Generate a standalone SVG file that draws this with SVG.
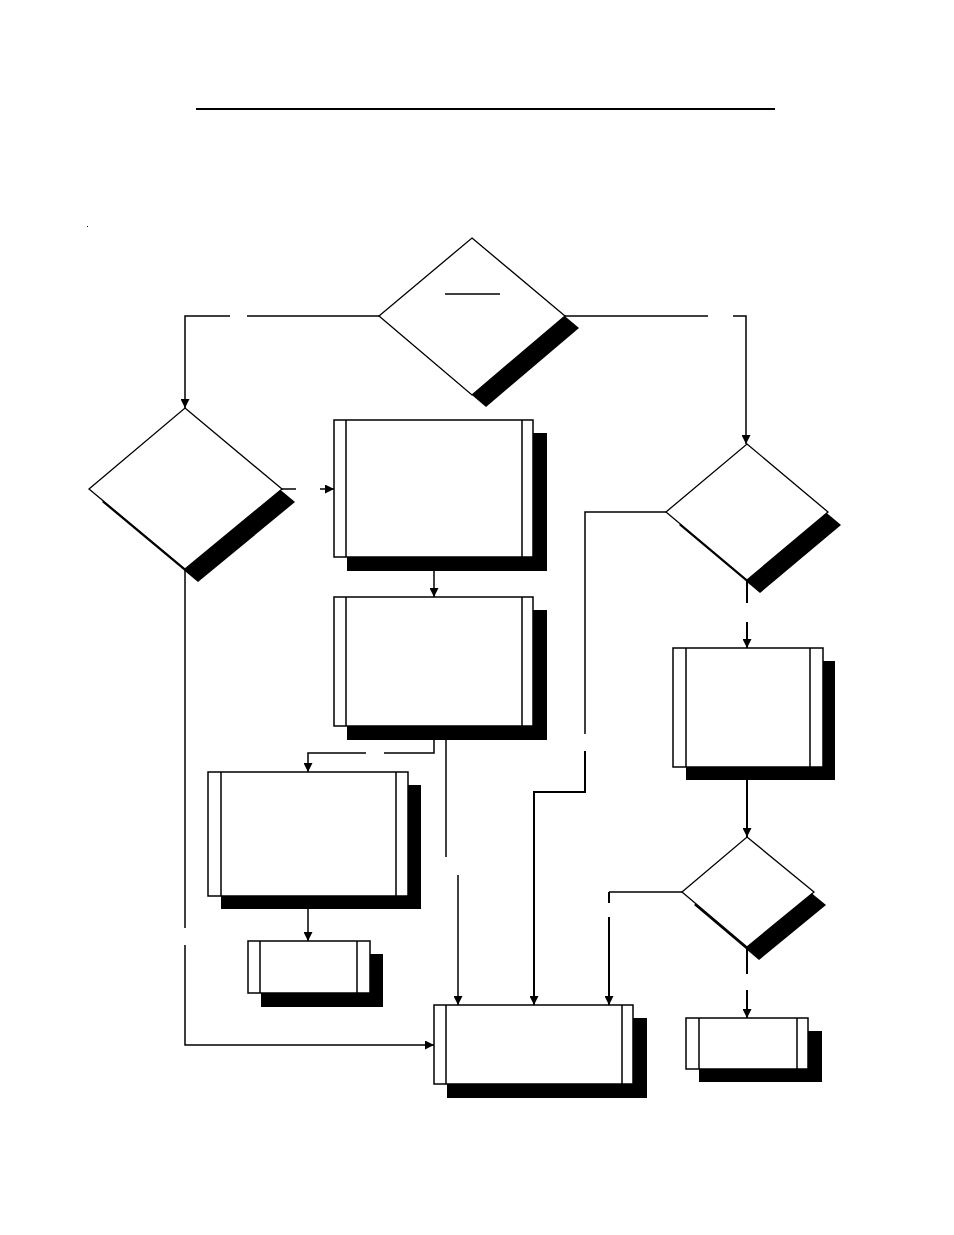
<svg xmlns="http://www.w3.org/2000/svg" width="954" height="1235" viewBox="0 0 954 1235">
<defs>
<style>
.sh{fill:#000;stroke:none}
.bx{fill:#fff;stroke:#000;stroke-width:1.5}
.in{stroke:#000;stroke-width:1.5;fill:none}
.dm{fill:#fff;stroke:#000;stroke-width:1.3}
.cn{fill:none;stroke:#000;stroke-width:1.5}
.th{stroke-width:2}
</style>
<marker id="ah" markerUnits="userSpaceOnUse" markerWidth="9" markerHeight="9" refX="8" refY="4" orient="auto" viewBox="0 0 8 8">
<path d="M0,0 L8,4 L0,8 z" fill="#000"/>
</marker>
</defs>
<rect width="954" height="1235" fill="#fff"/>
<line x1="196" y1="109" x2="775" y2="109" stroke="#000" stroke-width="2"/>
<rect x="87" y="226" width="1" height="1" fill="#000"/>

<g id="connectors">
<path class="cn" d="M379,316 H247"/>
<path class="cn" d="M230,316 H185 V408" marker-end="url(#ah)"/>
<path class="cn" d="M565,316 H708"/>
<path class="cn" d="M733,316 H746 V444" marker-end="url(#ah)"/>
<path class="cn" d="M282,489 H296"/>
<path class="cn" d="M320,489 H334" marker-end="url(#ah)"/>
<path class="cn" d="M434,570 V597" marker-end="url(#ah)"/>
<path class="cn" d="M434,740 V753 H384"/>
<path class="cn" d="M366,753 H308 V772" marker-end="url(#ah)"/>
<path class="cn" d="M446,740 V857"/>
<path class="cn" d="M458,875 V1005" marker-end="url(#ah)"/>
<path class="cn" d="M308,909 V941" marker-end="url(#ah)"/>
<path class="cn" d="M185,569 V928"/>
<path class="cn" d="M185,945 V1045 H434" marker-end="url(#ah)"/>
<path class="cn" d="M666,512 H585 V734"/>
<path class="cn th" d="M585,751 V792 H534 V1005" marker-end="url(#ah)"/>
<path class="cn th" d="M747,580 V603"/>
<path class="cn th" d="M747,622 V648" marker-end="url(#ah)"/>
<path class="cn th" d="M747,780 V837" marker-end="url(#ah)"/>
<path class="cn" d="M682,892 H609"/>
<path class="cn th" d="M609,892 V903"/>
<path class="cn th" d="M609,917 V1005" marker-end="url(#ah)"/>
<path class="cn th" d="M747,947 V974"/>
<path class="cn th" d="M747,990 V1018" marker-end="url(#ah)"/>
</g>

<g id="d1">
<polygon class="sh" points="486,250 579,328 486,407 393,328"/>
<polygon class="dm" points="472,238 565,316 472,395 379,316"/>
<line x1="445" y1="294" x2="500" y2="294" stroke="#000" stroke-width="1.3"/>
</g>
<g id="d2">
<polygon class="sh" points="198,421 295,502 198,582 102,502"/>
<polygon class="dm" points="185,408 282,489 185,569 89,489"/>
</g>
<g id="d3">
<polygon class="sh" points="760,457 841,525 760,593 679,525"/>
<polygon class="dm" points="747,444 828,512 747,580 666,512"/>
</g>
<g id="d4">
<polygon class="sh" points="759,850 826,905 759,960 694,905"/>
<polygon class="dm" points="747,837 814,892 747,947 682,892"/>
</g>

<g id="b1">
<rect class="sh" x="347" y="433" width="200" height="138"/>
<rect class="bx" x="334" y="420" width="199" height="137"/>
<path class="in" d="M346,420 V557 M522,420 V557"/>
</g>
<g id="b2">
<rect class="sh" x="347" y="610" width="200" height="130"/>
<rect class="bx" x="334" y="597" width="199" height="129"/>
<path class="in" d="M346,597 V726 M522,597 V726"/>
</g>
<g id="b3">
<rect class="sh" x="221" y="785" width="200" height="124"/>
<rect class="bx" x="208" y="772" width="200" height="124"/>
<path class="in" d="M221,772 V896 M396,772 V896"/>
</g>
<g id="b4">
<rect class="sh" x="261" y="954" width="122" height="53"/>
<rect class="bx" x="248" y="941" width="122" height="52"/>
<path class="in" d="M260,941 V993 M357,941 V993"/>
</g>
<g id="b5">
<rect class="sh" x="447" y="1018" width="200" height="80"/>
<rect class="bx" x="434" y="1005" width="199" height="79"/>
<path class="in" d="M446,1005 V1084 M622,1005 V1084"/>
</g>
<g id="b6">
<rect class="sh" x="686" y="661" width="149" height="119"/>
<rect class="bx" x="673" y="648" width="150" height="119"/>
<path class="in" d="M686,648 V767 M810,648 V767"/>
</g>
<g id="b7">
<rect class="sh" x="699" y="1031" width="123" height="51"/>
<rect class="bx" x="686" y="1018" width="122" height="51"/>
<path class="in" d="M699,1018 V1069 M797,1018 V1069"/>
</g>
</svg>
